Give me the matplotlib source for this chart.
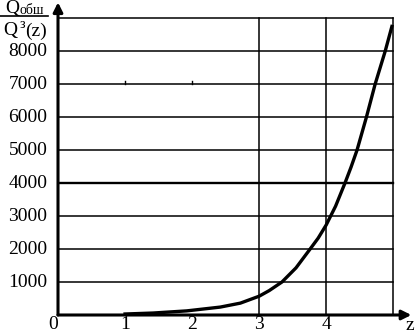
import numpy as np
import matplotlib.pyplot as plt

# Curve
z = [1.0, 1.42, 1.92, 2.42, 2.72, 3.0, 3.15, 3.34, 3.55, 3.76, 3.88, 4.0, 4.14,
     4.28, 4.37, 4.46, 4.6, 4.73, 4.88, 4.98]
q = [30, 60, 125, 240, 360, 570, 740, 1000, 1430, 2000, 2330, 2730, 3300,
     4000, 4480, 5000, 6000, 7000, 8000, 8750]

y_ticks = [1000, 2000, 3000, 4000, 5000, 6000, 7000, 8000]
x_ticks = [0, 1, 2, 3, 4]
h_lines = [1000, 2000, 3000, 4000, 5000, 6000, 7000, 8000, 9000]
v_lines = [3, 4, 5]

plt.rcParams['font.family'] = ['Liberation Serif', 'DejaVu Serif']
plt.rcParams['font.size'] = 14

W, H = 416, 332
fig = plt.figure(figsize=(W / 100, H / 100), dpi=100)
ax = fig.add_axes([58 / W, 17 / H, 352 / W, 310 / H])
ax.set_xlim(0, 5.25)
ax.set_ylim(0, 9400)
ax.axis('off')


def px(x, y):
    return x / W, 1 - y / H


# grid
for h in h_lines:
    ax.plot([0, 5], [h, h], color='black', lw=1.7 if h == 4000 else 1.1, zorder=1)
for v in v_lines:
    ax.plot([v, v], [0, 9000], color='black', lw=1.1, zorder=1)
# small tick marks on the 7000 line
for v in [1, 2]:
    ax.plot([v, v], [7000, 7100], color='black', lw=1.0, zorder=1)

# axes with arrows
arrow = dict(arrowstyle='-|>', lw=2.2, color='black', mutation_scale=14, shrinkA=0, shrinkB=0)
ax.annotate('', xy=(5.27, 0), xytext=(0, 0), arrowprops=arrow, annotation_clip=False)
ax.annotate('', xy=(0, 9480), xytext=(0, 0), arrowprops=arrow, annotation_clip=False)

# curve
ax.plot(z, q, color='black', lw=2.4, solid_joinstyle='round', zorder=3)

# tick labels
for t in y_ticks:
    ax.text(-0.16, t, str(t), ha='right', va='center', fontsize=14)
for t in x_ticks:
    ax.text(t - (0.07 if t == 0 else 0), -40, str(t), ha='center', va='top', fontsize=14)
fig.text(*px(410, 325), 'z', ha='center', va='center', fontsize=14)

# fraction label on the y axis
fig.text(*px(12, 8), 'Q', ha='center', va='center', fontsize=14)
fig.text(*px(32, 10), 'обш', ha='center', va='center', fontsize=10)
fig.add_artist(plt.Line2D([0, 48 / W], [1 - 16 / H] * 2, color='black', lw=1.2))
fig.text(*px(10, 31), 'Q', ha='center', va='center', fontsize=14)
fig.text(*px(22, 25), 'з', ha='center', va='center', fontsize=10)
fig.text(*px(36, 31), '(z)', ha='center', va='center', fontsize=14)

plt.savefig('out.png', dpi=100)
